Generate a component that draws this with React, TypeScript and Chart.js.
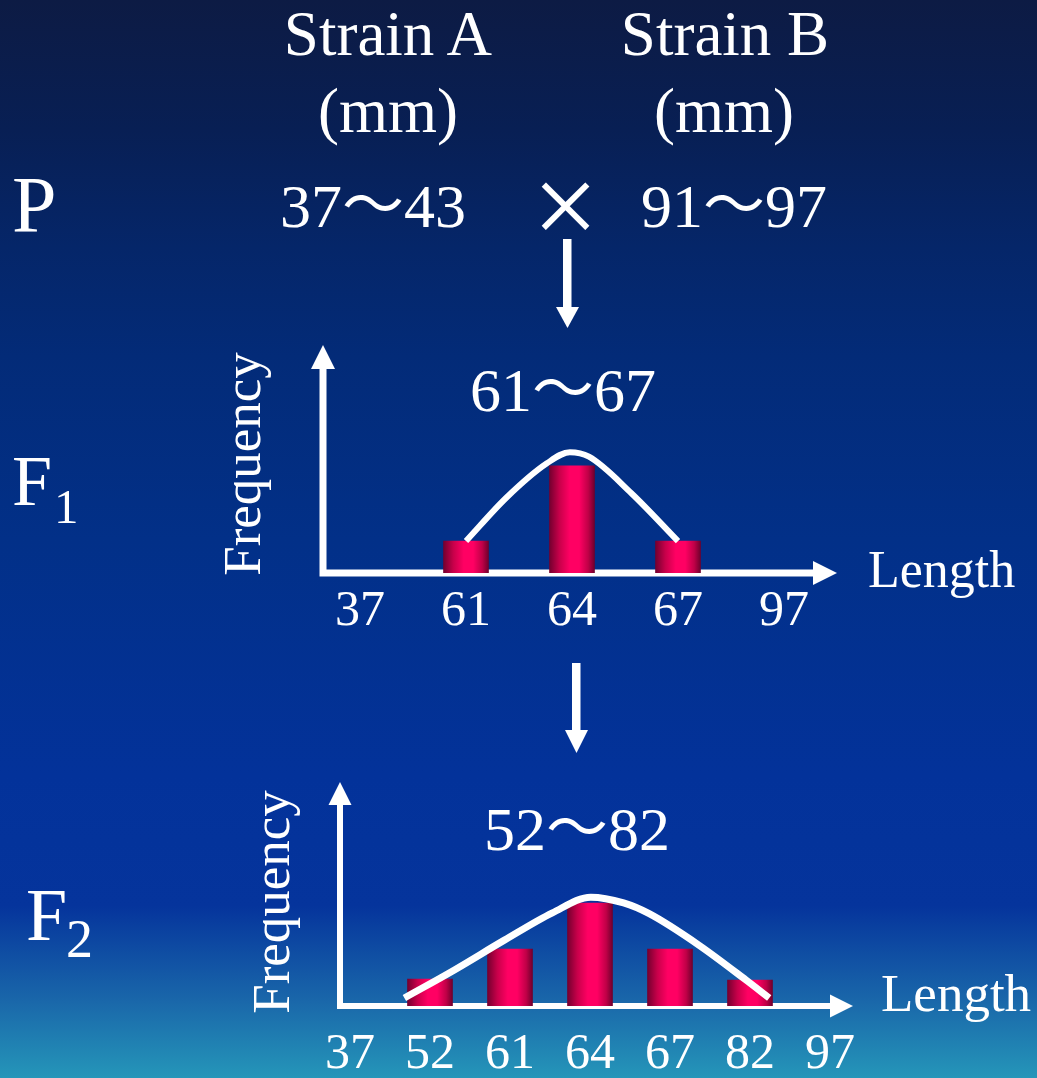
import { useEffect, useRef } from 'react';
import { Chart, registerables } from 'chart.js';

Chart.register(...registerables);

const SERIF = '"Liberation Serif", "Times New Roman", "Noto Sans CJK SC", serif';

// F1 generation: length ticks on the axis, bar frequencies and the fitted curve
const F1_LENGTH_TICKS = ['37', '61', '64', '67', '97'];
const F1_BAR_LENGTHS = ['61', '64', '67'];
const F1_BAR_FREQ = [14, 47, 14];
// curve samples: position along the length axis (in tick steps) and frequency
const F1_CURVE_POS = [1, 1.38, 1.76, 1.98, 2.16, 2.56, 3];
const F1_CURVE_FREQ = [14, 33, 48, 53, 51, 35, 14];

// F2 generation
const F2_LENGTH_TICKS = ['37', '52', '61', '64', '67', '82', '97'];
const F2_BAR_LENGTHS = ['52', '61', '64', '67', '82'];
const F2_BAR_FREQ = [6, 12.7, 23, 12.7, 5.8];
const F2_CURVE_POS = [0.68, 1.3, 1.93, 2.53, 3.01, 3.42, 3.74, 4.36, 4.95, 5.24];
const F2_CURVE_FREQ = [1.8, 8.0, 14.7, 20.8, 24.3, 23.0, 20.6, 13.6, 5.8, 1.8];

type Gen = {
  ticks: string[];
  barLengths: string[];
  barFreq: number[];
  curvePos: number[];
  curveFreq: number[];
  yMax: number;
  padding: { top: number; left: number; right: number; bottom: number };
  tickPad: number;
  barWidth: number;
  curveWidth: number;
  axis: { originAt: number; tipAt: number; width: number; head: number; headHalf: number };
};

// white axes with arrow heads, drawn beneath the bars
const arrowAxes = {
  id: 'arrowAxes',
  beforeDatasetsDraw(chart: any, _args: any, opts: any) {
    const { ctx, chartArea, scales } = chart;
    const ox = scales.x.getPixelForValue(opts.originAt);
    const tip = scales.x.getPixelForValue(opts.tipAt);
    const oy = chartArea.bottom;
    const top = chartArea.top;
    const w = opts.width;
    ctx.save();
    ctx.fillStyle = '#ffffff';
    ctx.strokeStyle = '#ffffff';
    ctx.lineWidth = w;
    ctx.lineCap = 'butt';
    ctx.beginPath();
    ctx.moveTo(ox, oy + w / 2);
    ctx.lineTo(ox, top + opts.head - 1);
    ctx.moveTo(ox - w / 2, oy);
    ctx.lineTo(tip - opts.head + 1, oy);
    ctx.stroke();
    ctx.beginPath();
    ctx.moveTo(ox, top);
    ctx.lineTo(ox - opts.headHalf, top + opts.head);
    ctx.lineTo(ox + opts.headHalf, top + opts.head);
    ctx.closePath();
    ctx.fill();
    ctx.beginPath();
    ctx.moveTo(tip, oy);
    ctx.lineTo(tip - opts.head, oy - opts.headHalf);
    ctx.lineTo(tip - opts.head, oy + opts.headHalf);
    ctx.closePath();
    ctx.fill();
    ctx.restore();
  },
};

// cylinder-like shading across each bar
function barFill(width: number) {
  return (c: any) => {
    const chart = c.chart;
    const xs = chart.scales?.x;
    if (!xs || c.type !== 'data' || !c.parsed) return '#ff0062';
    const cx = xs.getPixelForValue(c.parsed.x);
    if (!Number.isFinite(cx)) return '#ff0062';
    const g = chart.ctx.createLinearGradient(cx - width / 2, 0, cx + width / 2, 0);
    g.addColorStop(0, '#74002f');
    g.addColorStop(0.22, '#c8004a');
    g.addColorStop(0.45, '#ff0063');
    g.addColorStop(0.66, '#ff0063');
    g.addColorStop(0.86, '#c00047');
    g.addColorStop(1, '#70002d');
    return g;
  };
}

function makeConfig(g: Gen): any {
  const n = g.ticks.length;
  return {
    type: 'bar',
    data: {
      datasets: [
        {
          type: 'line',
          label: 'curve',
          data: g.curvePos.map((x, i) => ({ x, y: g.curveFreq[i] })),
          borderColor: '#ffffff',
          borderWidth: g.curveWidth,
          borderCapStyle: 'butt',
          pointRadius: 0,
          cubicInterpolationMode: 'monotone',
          fill: false,
          order: 0,
        },
        {
          type: 'bar',
          label: 'frequency',
          data: g.barLengths.map((len, i) => ({ x: g.ticks.indexOf(len), y: g.barFreq[i] })),
          grouped: false,
          barThickness: g.barWidth,
          maxBarThickness: g.barWidth,
          backgroundColor: barFill(g.barWidth),
          borderWidth: 0,
          order: 1,
        },
      ],
    },
    options: {
      responsive: false,
      animation: false,
      events: [],
      layout: { padding: g.padding },
      plugins: {
        legend: { display: false },
        tooltip: { enabled: false },
        arrowAxes: g.axis,
      },
      scales: {
        x: {
          type: 'linear',
          offset: false,
          min: -0.5,
          max: n - 0.5,
          grid: { display: false, drawTicks: false, offset: false },
          border: { display: false },
          afterBuildTicks: (scale: any) => {
            scale.ticks = g.ticks.map((_, i) => ({ value: i }));
          },
          afterFit: (scale: any) => {
            scale.paddingLeft = 0;
            scale.paddingRight = 0;
          },
          ticks: {
            color: '#ffffff',
            font: { family: SERIF, size: 50, lineHeight: 0.9 },
            padding: g.tickPad,
            autoSkip: false,
            maxRotation: 0,
            minRotation: 0,
            callback: (v: number) => g.ticks[v] ?? '',
          },
        },
        y: { type: 'linear', min: 0, max: g.yMax, display: false },
      },
    },
    plugins: [arrowAxes],
  };
}

export default function App() {
  const f1Ref = useRef<HTMLCanvasElement>(null);
  const f2Ref = useRef<HTMLCanvasElement>(null);

  useEffect(() => {
    document.body.style.margin = '0';
    const c1 = new Chart(
      f1Ref.current!,
      makeConfig({
        ticks: F1_LENGTH_TICKS,
        barLengths: F1_BAR_LENGTHS,
        barFreq: F1_BAR_FREQ,
        curvePos: F1_CURVE_POS,
        curveFreq: F1_CURVE_FREQ,
        yMax: 100,
        padding: { top: 15, left: 307, right: 200, bottom: 0 },
        tickPad: 16,
        barWidth: 45,
        curveWidth: 6,
        axis: { originAt: -0.349, tipAt: 4.5, width: 7, head: 24, headHalf: 12 },
      })
    );
    const c2 = new Chart(
      f2Ref.current!,
      makeConfig({
        ticks: F2_LENGTH_TICKS,
        barLengths: F2_BAR_LENGTHS,
        barFreq: F2_BAR_FREQ,
        curvePos: F2_CURVE_POS,
        curveFreq: F2_CURVE_FREQ,
        yMax: 50,
        padding: { top: 22, left: 310, right: 167, bottom: 0 },
        tickPad: 26,
        barWidth: 45,
        curveWidth: 7,
        axis: { originAt: -0.125, tipAt: 6.2875, width: 6, head: 23, headHalf: 11.5 },
      })
    );
    return () => {
      c1.destroy();
      c2.destroy();
    };
  }, []);

  return (
    <div
      style={{
        position: 'absolute',
        left: 0,
        top: 0,
        width: 1037,
        height: 1078,
        overflow: 'hidden',
        background:
          'linear-gradient(180deg, #0d1b44 0%, #081f54 12%, #052669 23%, #032b78 33%, #023088 50%, #03329a 72%, #05349c 84%, #1a68aa 93%, #2596b9 100%)',
      }}
    >
      <canvas
        ref={f1Ref}
        width={1037}
        height={320}
        style={{ position: 'absolute', left: 0, top: 330, width: 1037, height: 320 }}
      />
      <canvas
        ref={f2Ref}
        width={1037}
        height={343}
        style={{ position: 'absolute', left: 0, top: 760, width: 1037, height: 343 }}
      />
      <svg
        width={1037}
        height={1078}
        style={{ position: 'absolute', left: 0, top: 0 }}
        fontFamily={SERIF}
        fill="#ffffff"
      >
        <text x={388} y={55} fontSize={63} textAnchor="middle">Strain A</text>
        <text x={725} y={55} fontSize={63} textAnchor="middle">Strain B</text>
        <text x={388} y={132} fontSize={63} textAnchor="middle">(mm)</text>
        <text x={724} y={132} fontSize={63} textAnchor="middle">(mm)</text>

        <text x={12} y={232} fontSize={80}>P</text>
        <text x={373} y={227} fontSize={62} textAnchor="middle">37～43</text>
        <text x={565.5} y={245} fontSize={117} textAnchor="middle">×</text>
        <text x={734} y={227} fontSize={62} textAnchor="middle">91～97</text>

        <rect x={563} y={239} width={8.5} height={69} />
        <polygon points="556,307 579,307 567.5,328" />

        <text x={563} y={411} fontSize={62} textAnchor="middle">61～67</text>
        <text x={12} y={505} fontSize={72}>F</text>
        <text x={54} y={523} fontSize={49}>1</text>
        <text transform="translate(260,464) rotate(-90)" fontSize={53} textAnchor="middle">Frequency</text>
        <text x={868} y={587} fontSize={52}>Length</text>

        <rect x={572} y={663} width={8.5} height={68} />
        <polygon points="565,730 588,730 576.5,753" />

        <text x={577} y={850} fontSize={62} textAnchor="middle">52～82</text>
        <text x={26} y={940} fontSize={74}>F</text>
        <text x={66} y={957} fontSize={54}>2</text>
        <text transform="translate(289,902) rotate(-90)" fontSize={53} textAnchor="middle">Frequency</text>
        <text x={881} y={1011} fontSize={53}>Length</text>
      </svg>
    </div>
  );
}
